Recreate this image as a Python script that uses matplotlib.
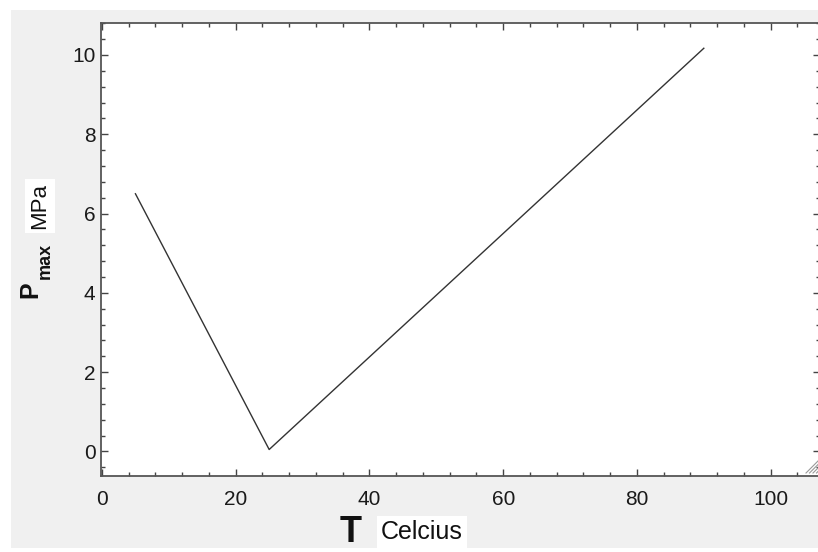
import matplotlib.pyplot as plt
from matplotlib.patches import Rectangle
from matplotlib.ticker import MultipleLocator
from matplotlib.lines import Line2D

plt.rcParams['font.family'] = ['Liberation Sans', 'DejaVu Sans']

# data
temperature = [5, 25, 90]
p_max = [6.5, 0.05, 10.17]

W, H = 818, 552

def fx(px):
    return px / W

def fy(py):
    return 1 - py / H

fig = plt.figure(figsize=(W / 100, H / 100), dpi=100, facecolor='white')

# grey panel behind everything
fig.patches.append(Rectangle((fx(11), fy(548)), fx(818) - fx(11), fy(10) - fy(548),
                             transform=fig.transFigure, facecolor='#f0f0f0',
                             edgecolor='none', zorder=-10))

ax = fig.add_axes([fx(101), fy(476), (820.5 - 101) / W, (476 - 23) / H])
ax.set_facecolor('white')
ax.plot(temperature, p_max, color='#333333', lw=1.0)

ax.set_xlim(-0.15, 107.45)
ax.set_ylim(-0.618, 10.807)

ax.xaxis.set_major_locator(MultipleLocator(20))
ax.xaxis.set_minor_locator(MultipleLocator(4))
ax.yaxis.set_major_locator(MultipleLocator(2))
ax.yaxis.set_minor_locator(MultipleLocator(0.4))

ax.tick_params(which='both', direction='in', top=True, right=True,
               color='#444444', width=1.0, labelsize=15, labelcolor='#1a1a1a')
ax.tick_params(which='major', length=5)
ax.tick_params(which='minor', length=3)
ax.tick_params(axis='x', pad=10)
ax.tick_params(axis='y', pad=4)

for s in ax.spines.values():
    s.set_color('#555555')
    s.set_linewidth(1.3)

# x axis label
fig.text(fx(351), fy(533), 'T', fontsize=26, fontweight='bold', ha='center', va='center',
         color='#111111')
fig.text(fx(422), fy(532), 'Celcius', fontsize=18, ha='center', va='center', color='#111111',
         bbox=dict(facecolor='white', edgecolor='none', pad=3))

# y axis label
fig.text(fx(30), fy(290), 'P', fontsize=18, fontweight='bold', rotation=90,
         ha='center', va='center', color='#111111')
fig.text(fx(45), fy(261), 'max', fontsize=13, fontweight='bold', rotation=90,
         ha='center', va='center', color='#111111')
fig.text(fx(40), fy(206), 'MPa', fontsize=16, rotation=90, ha='center', va='center',
         color='#111111', bbox=dict(facecolor='white', edgecolor='none', pad=3))

# resize grip in the corner
for k in range(4):
    off = k * 3.5
    fig.lines.append(Line2D([fx(806 + off), fx(818)], [fy(473), fy(461 + off)],
                            transform=fig.transFigure, color='#999999', lw=0.8))

fig.savefig('out.png', dpi=100, facecolor='white')
